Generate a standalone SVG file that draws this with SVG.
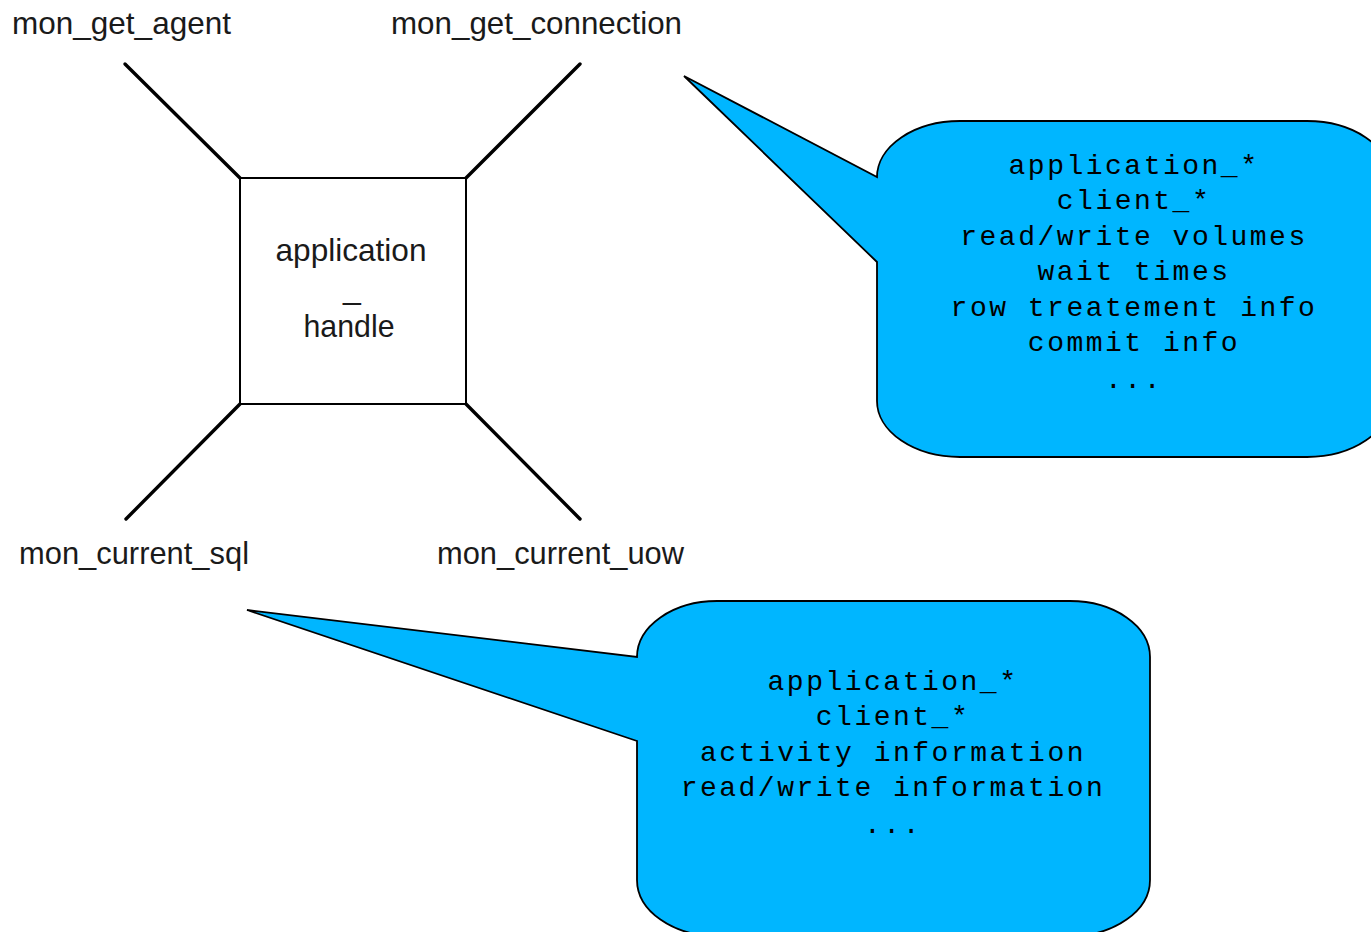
<svg xmlns="http://www.w3.org/2000/svg" width="1371" height="932" viewBox="0 0 1371 932">
<style>
.lbl{font-family:"Liberation Sans",Arial,sans-serif;font-size:32px;fill:#1a1a1a}
.mono{font-family:"Liberation Mono","Courier New",monospace;font-size:28px;letter-spacing:2.5px;fill:#000;text-anchor:middle}
.conn{stroke:#000;stroke-width:3.4;fill:none;stroke-linecap:round}
.callout{fill:#00b6ff;stroke:#000;stroke-width:1.8;stroke-linejoin:miter}
</style>
<rect width="1371" height="932" fill="#fff"/>
<g id="connectors">
<line class="conn" x1="125" y1="64" x2="240" y2="178"/>
<line class="conn" x1="580" y1="64" x2="466" y2="178"/>
<line class="conn" x1="240" y1="404" x2="126" y2="519"/>
<line class="conn" x1="466" y1="404" x2="580" y2="519"/>
</g>
<g id="node-handle">
<rect x="240" y="178" width="226" height="226" fill="#fff" stroke="#000" stroke-width="2"/>
<text class="lbl" x="351" y="261" text-anchor="middle" textLength="151" lengthAdjust="spacingAndGlyphs">application</text>
<text class="lbl" x="352" y="299" text-anchor="middle">_</text>
<text class="lbl" x="349" y="337" text-anchor="middle" textLength="91" lengthAdjust="spacingAndGlyphs">handle</text>
</g>
<g id="node-mon_get_agent"><text class="lbl" x="12" y="34" textLength="219" lengthAdjust="spacingAndGlyphs">mon_get_agent</text></g>
<g id="node-mon_get_connection"><text class="lbl" x="391" y="34" textLength="291" lengthAdjust="spacingAndGlyphs">mon_get_connection</text></g>
<g id="node-mon_current_sql"><text class="lbl" x="19" y="564" textLength="230" lengthAdjust="spacingAndGlyphs">mon_current_sql</text></g>
<g id="node-mon_current_uow"><text class="lbl" x="437" y="564" textLength="247" lengthAdjust="spacingAndGlyphs">mon_current_uow</text></g>
<g id="callout-connection">
<path class="callout" d="M877,262 L684,76 L877,177 A83,56 0 0 1 960,121 H1307 A83,56 0 0 1 1390,177 V401 A83,56 0 0 1 1307,457 H960 A83,56 0 0 1 877,401 Z"/>
<text class="mono" x="1134" y="174">application_*</text>
<text class="mono" x="1134" y="209">client_*</text>
<text class="mono" x="1134" y="245">read/write volumes</text>
<text class="mono" x="1134" y="280">wait times</text>
<text class="mono" x="1134" y="316">row treatement info</text>
<text class="mono" x="1134" y="351">commit info</text>
<text class="mono" x="1134" y="388">...</text>
</g>
<g id="callout-sql">
<path class="callout" d="M637,741 L247,610 L637,657 A80,56 0 0 1 717,601 H1070 A80,56 0 0 1 1150,657 V880 A80,56 0 0 1 1070,936 H717 A80,56 0 0 1 637,880 Z"/>
<text class="mono" x="893" y="690">application_*</text>
<text class="mono" x="893" y="725">client_*</text>
<text class="mono" x="893" y="761">activity information</text>
<text class="mono" x="893" y="796">read/write information</text>
<text class="mono" x="893" y="833">...</text>
</g>
</svg>
